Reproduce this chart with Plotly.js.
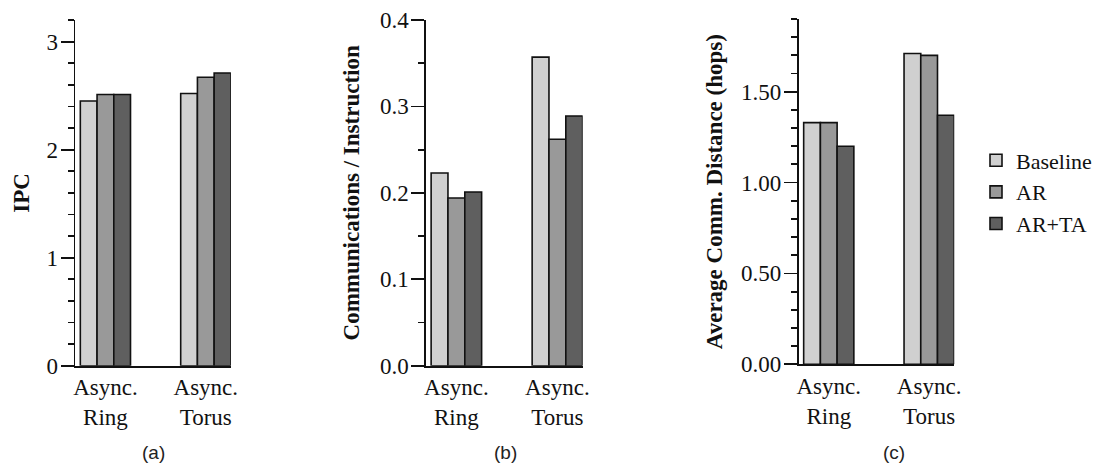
<!DOCTYPE html>
<html>
<head>
<meta charset="utf-8">
<script src="https://cdn.plot.ly/plotly-3.0.1.min.js"></script>
<style>
  html, body { margin: 0; padding: 0; background: #ffffff; }
  #chart { width: 1097px; height: 473px; }
</style>
</head>
<body>
<div id="chart"></div>
<script>
// ---- data ----
var categories = ["Async.<br>Ring", "Async.<br>Torus"];
var seriesNames = ["Baseline", "AR", "AR+TA"];
var seriesColors = ["#d0d0d0", "#999999", "#5f5f5f"];

var ipcBaseline = [2.45, 2.52];
var ipcAR = [2.51, 2.67];
var ipcARTA = [2.51, 2.71];

var commBaseline = [0.223, 0.357];
var commAR = [0.194, 0.262];
var commARTA = [0.201, 0.289];

var distBaseline = [1.33, 1.71];
var distAR = [1.33, 1.70];
var distARTA = [1.20, 1.37];

var panelLabels = ["(a)", "(b)", "(c)"];
var yTitles = ["IPC", "Communications / Instruction", "Average Comm. Distance (hops)"];

// ---- build ----
var serif = "'Liberation Serif', 'Times New Roman', serif";
var W = 1097, H = 473;
function fx(px) { return px / W; }
function fy(py) { return 1 - py / H; }

var panels = [
  { vals: [ipcBaseline, ipcAR, ipcARTA], xa: "x", ya: "y" },
  { vals: [commBaseline, commAR, commARTA], xa: "x2", ya: "y2" },
  { vals: [distBaseline, distAR, distARTA], xa: "x3", ya: "y3" }
];

var traces = [];
panels.forEach(function (p, pi) {
  p.vals.forEach(function (v, si) {
    traces.push({
      type: "bar",
      x: categories,
      y: v,
      name: seriesNames[si],
      legendgroup: seriesNames[si],
      showlegend: pi === 2,
      xaxis: p.xa,
      yaxis: p.ya,
      marker: { color: seriesColors[si], line: { color: "#111111", width: 1.6 } },
      hoverinfo: "x+y+name"
    });
  });
});

function xAxis(l, r, anchor) {
  return {
    domain: [fx(l), fx(r)],
    anchor: anchor,
    type: "category",
    range: [-0.3, 1.25],
    showline: true, linecolor: "#111111", linewidth: 1.8,
    ticks: "", showgrid: false, zeroline: false,
    tickfont: { family: serif, size: 23, color: "#111111" },
    fixedrange: true
  };
}
function yAxis(top, bottom, anchor, range, dtick, minorDtick, fmt, title, standoff) {
  return {
    domain: [fy(bottom), fy(top)],
    anchor: anchor,
    range: range,
    dtick: dtick, tick0: 0,
    tickformat: fmt,
    showline: true, linecolor: "#111111", linewidth: 1.8,
    ticks: "outside", ticklen: 13, tickwidth: 1.8, tickcolor: "#111111",
    minor: { dtick: minorDtick, tick0: 0, ticks: "outside", ticklen: 6, tickwidth: 1.8, tickcolor: "#111111", showgrid: false },
    showgrid: false, zeroline: false,
    ticklabelstandoff: -2,
    tickfont: { family: serif, size: 23, color: "#111111" },
    title: { text: "<b>" + title + "</b>", font: { family: serif, size: 23, color: "#111111" }, standoff: standoff },
    fixedrange: true
  };
}

var layout = {
  width: W, height: H,
  margin: { l: 0, r: 0, t: 0, b: 0 },
  paper_bgcolor: "#ffffff", plot_bgcolor: "#ffffff",
  barmode: "group",
  bargap: 0.5, bargroupgap: 0,
  showlegend: true,
  legend: {
    x: fx(985), y: fy(192), xanchor: "left", yanchor: "middle",
    font: { family: serif, size: 22, color: "#111111" },
    tracegroupgap: 0, itemwidth: 30,
    bgcolor: "rgba(0,0,0,0)"
  },
  xaxis: xAxis(76, 233, "y"),
  xaxis2: xAxis(430, 588, "y2"),
  xaxis3: xAxis(806, 963, "y3"),
  yaxis: yAxis(20, 365.7, "x", [0, 3.2], 1, 0.2, "d", yTitles[0], 10),
  yaxis2: yAxis(20, 365.7, "x2", [0, 0.4], 0.1, 0.05, ".1f", yTitles[1], 14),
  yaxis3: yAxis(19, 364.3, "x3", [0, 1.9], 0.5, 0.1, ".2f", yTitles[2], 12),
  annotations: panelLabels.map(function (t, i) {
    var cx = [155, 510, 902][i];
    return {
      text: t, xref: "paper", yref: "paper",
      x: fx(cx), y: fy(452), xanchor: "center", yanchor: "middle",
      showarrow: false,
      font: { family: "'Liberation Sans', Arial, sans-serif", size: 19, color: "#222222" }
    };
  })
};

Plotly.newPlot("chart", traces, layout, { displayModeBar: false, staticPlot: true });
</script>
</body>
</html>
